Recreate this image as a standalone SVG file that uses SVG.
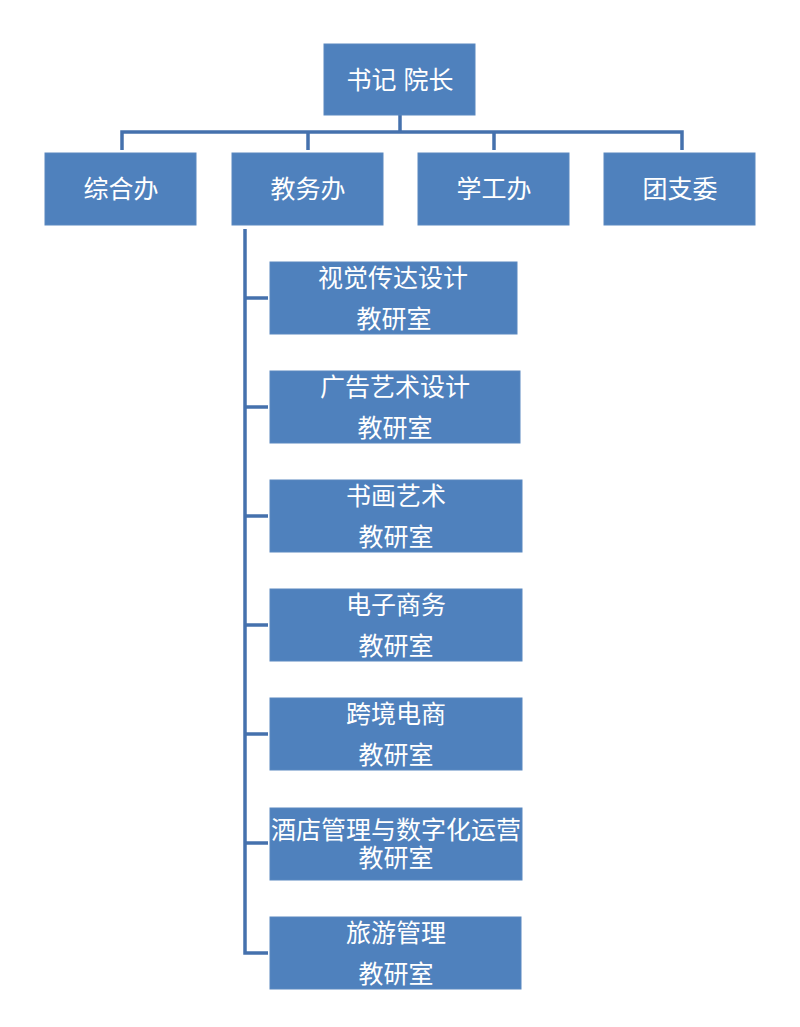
<svg xmlns="http://www.w3.org/2000/svg" width="800" height="1027" viewBox="0 0 800 1027">
<style>
.box{fill:#4F81BD;stroke:#5A88C0;stroke-width:1}
.t{font-family:"Liberation Sans","Noto Sans CJK SC",sans-serif;font-size:25px;fill:#FFFFFF;text-anchor:middle;dominant-baseline:central}
.c{stroke:#4571AD;stroke-width:3.5;fill:none}
</style>
<rect width="800" height="1027" fill="#FFFFFF"/>
<g id="connectors">
<path class="c" d="M400,115 V132 M122,150 V132 H682 V150 M308,132 V150 M494,132 V150"/>
<path class="c" d="M245,229 V953 H268 M245,298 H268 M245,407 H268 M245,516 H268 M245,625 H268 M245,734 H268 M245,843 H268"/>
</g>
<g id="n-top"><rect class="box" x="324" y="44" width="151" height="71"/><text class="t" x="400" y="80">书记 院长</text></g>
<g id="n-zonghe"><rect class="box" x="45" y="153" width="151" height="72"/><text class="t" x="121" y="189">综合办</text></g>
<g id="n-jiaowu"><rect class="box" x="232" y="153" width="151" height="72"/><text class="t" x="308" y="189">教务办</text></g>
<g id="n-xuegong"><rect class="box" x="418" y="153" width="151" height="72"/><text class="t" x="494" y="189">学工办</text></g>
<g id="n-tuan"><rect class="box" x="604" y="153" width="151" height="72"/><text class="t" x="680" y="189">团支委</text></g>
<g id="n-s1"><rect class="box" x="270" y="262" width="247" height="72"/><text class="t" x="393" y="278">视觉传达设计</text><text class="t" x="394" y="319">教研室</text></g>
<g id="n-s2"><rect class="box" x="270" y="371" width="250" height="72"/><text class="t" x="395" y="387">广告艺术设计</text><text class="t" x="395" y="428">教研室</text></g>
<g id="n-s3"><rect class="box" x="270" y="480" width="252" height="72"/><text class="t" x="396" y="496">书画艺术</text><text class="t" x="396" y="537">教研室</text></g>
<g id="n-s4"><rect class="box" x="270" y="589" width="252" height="72"/><text class="t" x="396" y="605">电子商务</text><text class="t" x="396" y="646">教研室</text></g>
<g id="n-s5"><rect class="box" x="270" y="698" width="252" height="72"/><text class="t" x="396" y="714">跨境电商</text><text class="t" x="396" y="755">教研室</text></g>
<g id="n-s6"><rect class="box" x="270" y="808" width="252" height="72"/><text class="t" x="396" y="830">酒店管理与数字化运营</text><text class="t" x="396" y="858">教研室</text></g>
<g id="n-s7"><rect class="box" x="270" y="917" width="251" height="72"/><text class="t" x="396" y="933">旅游管理</text><text class="t" x="396" y="974">教研室</text></g>
</svg>
